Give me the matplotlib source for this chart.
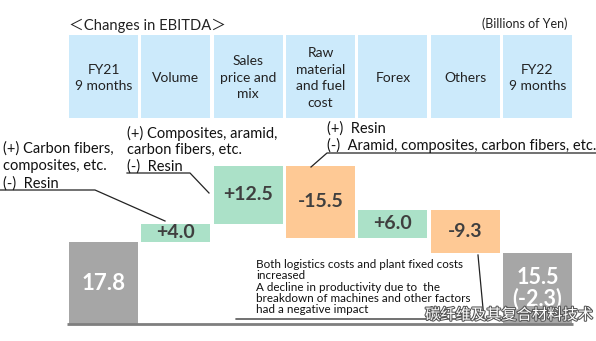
import matplotlib
matplotlib.use("Agg")
import matplotlib.pyplot as plt
import matplotlib.patheffects as pe
from matplotlib.patches import Rectangle
from matplotlib.transforms import blended_transform_factory
import numpy as np

# data
headers = ["FY21\n9 months", "Volume", "Sales\nprice and\nmix", "Raw\nmaterial\nand fuel\ncost",
           "Forex", "Others", "FY22\n9 months"]
start_value = 17.8
deltas = [4.0, 12.5, -15.5, 6.0, -9.3]
end_value = 15.5
end_change = -2.3
delta_labels = ["+4.0", "+12.5", "-15.5", "+6.0", "-9.3"]

GRAY = "#a6a6a6"
GREEN = "#abe1c8"
ORANGE = "#fec995"
BLUE = "#cceafb"
DARK = "#3f3f3f"

W, H = 596, 341
fig = plt.figure(figsize=(W / 100, H / 100), dpi=100)
ax = fig.add_axes([0, 0, 1, 1])
ax.axis("off")

# pixel scale of the original slide
k = 4.6          # px per billion yen
x0, pitch = 103.5, 72.33
ax.set_xlim(-x0 / pitch, (W - x0) / pitch)
ax.set_ylim(-(H - 324) / k, 324 / k)

def P(x, y):
    # pixel position -> axes fraction
    return x / W, 1 - y / H

font = "Lato"

# waterfall bars
levels = np.concatenate([[start_value], start_value + np.cumsum(deltas)])
bottoms = [min(levels[i], levels[i + 1]) for i in range(len(deltas))]
heights = [abs(d) for d in deltas]
colors = [GREEN if d > 0 else ORANGE for d in deltas]
bw = 0.955

ax.bar(0, start_value, width=bw, color=GRAY)
ax.bar(range(1, 6), heights, bottom=bottoms, width=bw, color=colors)
ax.bar(6, end_value, width=bw, color=GRAY)

ax.text(0, start_value / 2, "%.1f" % start_value, ha="center", va="center",
        color="white", fontsize=16, fontweight="bold", family=font)
for i, lab in enumerate(delta_labels):
    ax.text(i + 1, bottoms[i] + heights[i] / 2, lab, ha="center", va="center",
            color=DARK, fontsize=14, fontweight="bold", family=font)
ax.text(6, end_value / 2, "%.1f\n(%.1f)" % (end_value, end_change), ha="center",
        va="center", color="white", fontsize=15.5, fontweight="bold", family=font,
        linespacing=1.0)

# baseline
ax.plot([-0.5, 6.49], [0, 0], color="#7f7f7f", lw=2, solid_capstyle="butt")

# header cells
tr = blended_transform_factory(ax.transData, ax.transAxes)
hy0, hy1 = 1 - 118 / H, 1 - 35 / H
for i, h in enumerate(headers):
    ax.add_patch(Rectangle((i - bw / 2, hy0), bw, hy1 - hy0, transform=tr,
                           color=BLUE, lw=0))
    ax.text(i, (hy0 + hy1) / 2 - 0.004, h, transform=tr, ha="center", va="center",
            fontsize=10, family=font, color="#222222", linespacing=1.45)

ax.text(*P(69, 26), "＜Changes in EBITDA＞", transform=ax.transAxes, ha="left",
        va="center", fontsize=10.6, family=[font, "Noto Sans CJK JP"], color="#222222")
ax.text(*P(567, 24), "(Billions of Yen)", transform=ax.transAxes, ha="right",
        va="center", fontsize=9, family=font, color="#222222")

# annotations
def note(x, y, s, size=10.5, ls=1.18):
    ax.text(*P(x, y), s, transform=ax.transAxes, ha="left", va="top",
            fontsize=size, family=font, color="#111111", linespacing=ls)

def leader(pts):
    xs, ys = zip(*[P(x, y) for x, y in pts])
    ax.plot(xs, ys, transform=ax.transAxes, color="#222222", lw=0.9)

note(3, 141, "(+) Carbon fibers,\ncomposites, etc.\n(-)  Resin", ls=1.32)
leader([(0, 190), (95, 190), (165, 221)])

note(127, 126, "(+) Composites, aramid,\ncarbon fibers, etc.\n(-)  Resin")
leader([(127, 173), (190, 173), (209, 193)])

note(327, 121, "(+)  Resin\n(-)  Aramid, composites, carbon fibers, etc.")
leader([(596, 153), (327, 153), (311, 167)])

note(256, 259, "Both logistics costs and plant fixed costs\nincreased\n"
     "A decline in productivity due to  the\nbreakdown of machines and other factors\n"
     "had a negative impact", size=8.4, ls=1.03)
leader([(236, 319), (484, 319), (478, 255)])

# watermark
ax.text(*P(425, 315), "碳纤维及其复合材料技术", transform=ax.transAxes, ha="left",
        va="center", fontsize=11, family="Noto Sans CJK SC", color="white",
        path_effects=[pe.withStroke(linewidth=1.5, foreground="#555555")])

fig.savefig("out.png", dpi=100)
